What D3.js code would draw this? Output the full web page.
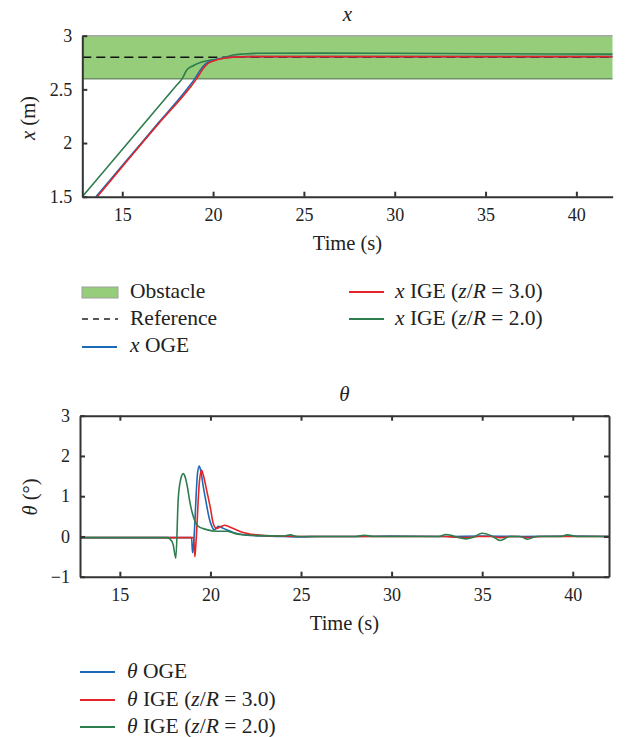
<!DOCTYPE html>
<meta charset="utf-8">
<html>
<head>
  <script src="https://d3js.org/d3.v7.min.js"></script>
  <style>
    body { margin: 0; background: #fff; }
  </style>
</head>
<body>
<div id="chart"></div>
<script>
// ---- x position (m) vs time (s) ----
var xTimeOGE = [13.55, 15, 17, 18.6, 19.0, 19.3, 19.6, 20.0, 20.5, 21.0, 22, 26, 30, 35, 42];
var xOGE     = [1.50, 1.79, 2.19, 2.51, 2.60, 2.68, 2.74, 2.77, 2.79, 2.80, 2.805, 2.805, 2.805, 2.805, 2.805];
var xTimeIGE3 = [13.62, 15, 17, 18.7, 19.1, 19.4, 19.7, 20.1, 20.6, 21.1, 22, 26, 30, 35, 42];
var xIGE3     = [1.50, 1.78, 2.18, 2.51, 2.60, 2.68, 2.74, 2.77, 2.79, 2.80, 2.805, 2.805, 2.805, 2.805, 2.805];
var xTimeIGE2 = [12.8, 15, 17, 18.0, 18.3, 18.55, 18.9, 19.3, 19.8, 20.2, 20.7, 21.1, 21.7, 22.5, 26, 30, 35, 42];
var xIGE2     = [1.50, 1.94, 2.34, 2.54, 2.60, 2.68, 2.72, 2.75, 2.77, 2.78, 2.80, 2.82, 2.83, 2.836, 2.838, 2.836, 2.832, 2.828];
var xReference = 2.8;
var obstacle = [2.6, 3.0];

// ---- theta (deg) vs time (s) ----
var thTimeOGE = [12.8, 15, 17, 18.96, 19.01, 19.05, 19.29, 19.38, 19.48, 19.6, 19.72, 19.82, 19.95, 20.06, 20.2, 20.32, 20.43, 20.55, 20.71, 21.0, 21.26, 21.6, 22, 23, 24, 25, 26, 28, 30, 33, 35, 37, 40, 42];
var thOGE     = [-0.03, -0.03, -0.03, -0.03, -0.4, -0.3, 1.58, 1.75, 1.6, 1.25, 0.95, 0.7, 0.42, 0.27, 0.17, 0.2, 0.25, 0.24, 0.2, 0.15, 0.1, 0.06, 0.03, 0.01, 0, -0.01, 0, 0, 0.01, 0, 0.01, 0, 0.01, 0];
var thTimeIGE3 = [12.8, 15, 17, 19.07, 19.14, 19.18, 19.4, 19.51, 19.62, 19.79, 20.0, 20.15, 20.34, 20.55, 20.8, 21.0, 21.26, 21.8, 22.55, 23.5, 25, 28, 30, 33, 33.5, 34.2, 34.8, 35.5, 36, 36.6, 37, 37.5, 38.2, 40, 42];
var thIGE3     = [-0.03, -0.03, -0.03, -0.03, -0.5, -0.3, 1.4, 1.65, 1.5, 1.15, 0.7, 0.33, 0.2, 0.24, 0.28, 0.25, 0.2, 0.1, 0.04, 0.01, 0, 0, 0, 0, -0.02, -0.03, 0, 0, -0.03, 0, 0, -0.03, 0, 0, 0];
var thTimeIGE2 = [12.8, 15, 17.6, 17.76, 17.94, 18.09, 18.22, 18.35, 18.5, 18.62, 18.72, 18.87, 19.05, 19.33, 19.79, 20.34, 20.9, 21.3, 21.63, 22.74, 24.0, 24.4, 24.8, 28, 28.5, 29, 32.6, 33, 33.5, 34.1, 34.5, 35, 35.5, 36, 36.5, 37.1, 37.5, 38, 39.3, 39.7, 40.2, 42];
var thIGE2     = [-0.03, -0.03, -0.03, -0.06, -0.2, -0.54, 0.92, 1.4, 1.56, 1.45, 1.25, 0.84, 0.5, 0.25, 0.17, 0.13, 0.13, 0.08, 0.05, 0.02, 0.01, 0.04, 0, 0, 0.03, 0, 0, 0.05, 0, -0.06, -0.02, 0.08, 0.02, -0.1, 0, 0, -0.07, 0, 0, 0.04, 0, 0];

var timeTicks = [15, 20, 25, 30, 35, 40];
var xTicks = [1.5, 2, 2.5, 3];
var thTicks = [-1, 0, 1, 2, 3];

var colOGE = "#1a6ab5", colIGE3 = "#e52427", colIGE2 = "#2e7d4e";
var serif = "Liberation Serif";

var svg = d3.select("#chart").append("svg")
  .attr("width", 626).attr("height", 737)
  .attr("font-family", serif);

function zip(t, v) { return t.map(function(d, i) { return [d, v[i]]; }); }

function styleAxis(g, size) {
  g.attr("font-family", serif).attr("font-size", size);
  g.select(".domain").attr("stroke", "#333").attr("stroke-width", 2);
  g.selectAll(".tick line").attr("stroke", "#333").attr("stroke-width", 2);
  g.selectAll(".tick text").attr("fill", "#222").attr("font-family", serif);
}

// draws text with italic parts: pieces = [[text, italic], ...]
function richText(sel, pieces) {
  sel.attr("font-family", serif).attr("fill", "#222");
  pieces.forEach(function(p) {
    sel.append("tspan").text(p[0]).attr("font-style", p[1] ? "italic" : null);
  });
}

// ================= top chart: x =================
var x1 = d3.scaleLinear().domain([12.8, 42]).range([82.3, 612.7]);
var y1 = d3.scaleLinear().domain([1.5, 3]).range([196.7, 35.7]);

svg.append("clipPath").attr("id", "clip1").append("rect")
  .attr("x", x1(12.8)).attr("y", y1(3) - 2)
  .attr("width", x1(42) - x1(12.8)).attr("height", y1(1.5) - y1(3) + 2);

var p1 = svg.append("g").attr("clip-path", "url(#clip1)");

p1.append("rect")
  .attr("x", x1(12.8)).attr("y", y1(obstacle[1]))
  .attr("width", x1(42) - x1(12.8)).attr("height", y1(obstacle[0]) - y1(obstacle[1]))
  .attr("fill", "#95cd7a");
p1.append("line").attr("x1", x1(12.8)).attr("x2", x1(42))
  .attr("y1", y1(obstacle[1])).attr("y2", y1(obstacle[1]))
  .attr("stroke", "#a8a8a8").attr("stroke-width", 1.5);
p1.append("line").attr("x1", x1(12.8)).attr("x2", x1(42))
  .attr("y1", y1(obstacle[0])).attr("y2", y1(obstacle[0]))
  .attr("stroke", "#6f8f6a").attr("stroke-width", 1.5);

p1.append("line").attr("x1", x1(12.8)).attr("x2", x1(42))
  .attr("y1", y1(xReference)).attr("y2", y1(xReference))
  .attr("stroke", "#111").attr("stroke-width", 1.5).attr("stroke-dasharray", "9,5");

var line1 = d3.line().x(function(d) { return x1(d[0]); }).y(function(d) { return y1(d[1]); })
  .curve(d3.curveMonotoneX);

[[xTimeIGE2, xIGE2, colIGE2], [xTimeOGE, xOGE, colOGE], [xTimeIGE3, xIGE3, colIGE3]].forEach(function(s) {
  p1.append("path").datum(zip(s[0], s[1])).attr("d", line1)
    .attr("fill", "none").attr("stroke", s[2]).attr("stroke-width", 1.6);
});

svg.append("g").attr("transform", "translate(0," + y1(1.5) + ")")
  .call(d3.axisBottom(x1).tickValues(timeTicks).tickSizeInner(-5).tickSizeOuter(0).tickPadding(11.5))
  .call(styleAxis, 18);
svg.append("g").attr("transform", "translate(" + x1(12.8) + ",0)")
  .call(d3.axisLeft(y1).tickValues(xTicks).tickFormat(d3.format("")).tickSizeInner(-5).tickSizeOuter(0).tickPadding(10))
  .call(styleAxis, 18);

svg.append("text").attr("x", (x1(12.8) + x1(42)) / 2).attr("y", 21)
  .attr("text-anchor", "middle").attr("font-size", 21)
  .call(richText, [["x", true]]);
svg.append("text").attr("x", (x1(12.8) + x1(42)) / 2).attr("y", 250)
  .attr("text-anchor", "middle").attr("font-size", 20.5)
  .call(richText, [["Time (s)", false]]);
svg.append("text").attr("transform", "translate(35,118)rotate(-90)")
  .attr("text-anchor", "middle").attr("font-size", 20.5)
  .call(richText, [["x", true], [" (m)", false]]);

// legend top
var leg1 = svg.append("g").attr("font-size", 21.5);
leg1.append("rect").attr("x", 82).attr("y", 287).attr("width", 36).attr("height", 11)
  .attr("fill", "#95cd7a").attr("stroke", "#a0a0a0").attr("stroke-width", 1);
leg1.append("text").attr("x", 130).attr("y", 298).call(richText, [["Obstacle", false]]);
leg1.append("line").attr("x1", 82).attr("x2", 118).attr("y1", 319).attr("y2", 319)
  .attr("stroke", "#222").attr("stroke-width", 1.5).attr("stroke-dasharray", "6,5");
leg1.append("text").attr("x", 130).attr("y", 325).call(richText, [["Reference", false]]);
var legItems1 = [
  [82, 347, 130, 352, colOGE, [["x", true], [" OGE", false]]],
  [349, 292, 395, 298, colIGE3, [["x", true], [" IGE (", false], ["z", true], ["/", false], ["R", true], [" = 3.0)", false]]],
  [349, 319, 395, 325, colIGE2, [["x", true], [" IGE (", false], ["z", true], ["/", false], ["R", true], [" = 2.0)", false]]]
];
legItems1.forEach(function(d) {
  leg1.append("line").attr("x1", d[0]).attr("x2", d[0] + 35).attr("y1", d[1]).attr("y2", d[1])
    .attr("stroke", d[4]).attr("stroke-width", 2);
  leg1.append("text").attr("x", d[2]).attr("y", d[3]).call(richText, d[5]);
});

// ================= bottom chart: theta =================
var x2 = d3.scaleLinear().domain([12.8, 42]).range([80, 609]);
var y2 = d3.scaleLinear().domain([-1, 3]).range([576.7, 415.7]);

svg.append("clipPath").attr("id", "clip2").append("rect")
  .attr("x", x2(12.8)).attr("y", y2(3))
  .attr("width", x2(42) - x2(12.8)).attr("height", y2(-1) - y2(3));
var p2 = svg.append("g").attr("clip-path", "url(#clip2)");

var line2 = d3.line().x(function(d) { return x2(d[0]); }).y(function(d) { return y2(d[1]); })
  .curve(d3.curveMonotoneX);

[[thTimeOGE, thOGE, colOGE], [thTimeIGE3, thIGE3, colIGE3], [thTimeIGE2, thIGE2, colIGE2]].forEach(function(s) {
  p2.append("path").datum(zip(s[0], s[1])).attr("d", line2)
    .attr("fill", "none").attr("stroke", s[2]).attr("stroke-width", 1.6);
});

svg.append("g").attr("transform", "translate(0," + y2(-1) + ")")
  .call(d3.axisBottom(x2).tickValues(timeTicks).tickSizeInner(-5).tickSizeOuter(0).tickPadding(11.5))
  .call(styleAxis, 18);
svg.append("g").attr("transform", "translate(0," + y2(3) + ")")
  .call(d3.axisTop(x2).tickValues(timeTicks).tickFormat("").tickSizeInner(-5).tickSizeOuter(0))
  .call(styleAxis, 18);
svg.append("g").attr("transform", "translate(" + x2(12.8) + ",0)")
  .call(d3.axisLeft(y2).tickValues(thTicks).tickFormat(d3.format("d")).tickSizeInner(-5).tickSizeOuter(0).tickPadding(10))
  .call(styleAxis, 18);
svg.append("g").attr("transform", "translate(" + x2(42) + ",0)")
  .call(d3.axisRight(y2).tickValues(thTicks).tickFormat("").tickSizeInner(-5).tickSizeOuter(0))
  .call(styleAxis, 18);

svg.append("text").attr("x", (x2(12.8) + x2(42)) / 2).attr("y", 401)
  .attr("text-anchor", "middle").attr("font-size", 21)
  .call(richText, [["θ", true]]);
svg.append("text").attr("x", (x2(12.8) + x2(42)) / 2).attr("y", 630)
  .attr("text-anchor", "middle").attr("font-size", 20.5)
  .call(richText, [["Time (s)", false]]);
svg.append("text").attr("transform", "translate(37,497)rotate(-90)")
  .attr("text-anchor", "middle").attr("font-size", 20.5)
  .call(richText, [["θ", true], [" (°)", false]]);

// legend bottom
var leg2 = svg.append("g").attr("font-size", 21.5);
var legItems2 = [
  [672, 678, colOGE, [["θ", true], [" OGE", false]]],
  [700, 706, colIGE3, [["θ", true], [" IGE (", false], ["z", true], ["/", false], ["R", true], [" = 3.0)", false]]],
  [727, 733, colIGE2, [["θ", true], [" IGE (", false], ["z", true], ["/", false], ["R", true], [" = 2.0)", false]]]
];
legItems2.forEach(function(d) {
  leg2.append("line").attr("x1", 80).attr("x2", 115).attr("y1", d[0]).attr("y2", d[0])
    .attr("stroke", d[2]).attr("stroke-width", 2);
  leg2.append("text").attr("x", 127).attr("y", d[1]).call(richText, d[3]);
});
</script>
</body>
</html>
